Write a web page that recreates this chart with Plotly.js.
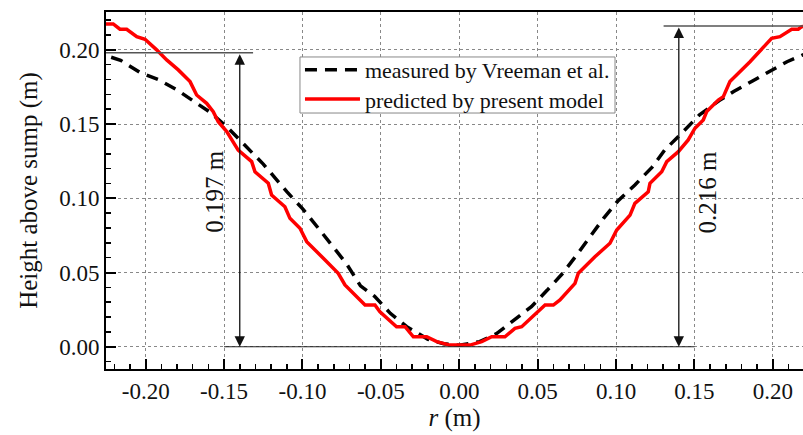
<!DOCTYPE html>
<html>
<head>
<meta charset="utf-8">
<script src="https://cdn.plot.ly/plotly-3.0.1.min.js"></script>
<style>html,body{margin:0;padding:0;background:#fff}#chart{width:803px;height:435px}</style>
</head>
<body>
<div id="chart"></div>
<script>
// measured by Vreeman et al.
var measR = [-0.222,-0.216,-0.204,-0.192,-0.180,-0.170,-0.159,-0.148,-0.138,-0.125,-0.110,-0.100,-0.090,-0.072,-0.063,-0.054,-0.044,-0.0335,-0.020,-0.010,0.000,0.013,0.024,0.034,0.046,0.056,0.066,0.075,0.083,0.092,0.101,0.112,0.123,0.131,0.141,0.153,0.166,0.175,0.187,0.197,0.209,0.220];
var measH = [0.195,0.193,0.185,0.180,0.173,0.166,0.158,0.148,0.137,0.123,0.1045,0.093,0.080,0.056,0.041,0.034,0.0225,0.0135,0.005,0.002,0.001,0.0034,0.009,0.017,0.027,0.038,0.0495,0.062,0.074,0.0865,0.098,0.109,0.121,0.1325,0.143,0.156,0.166,0.172,0.179,0.185,0.192,0.197];
// predicted by present model
var predR = [-0.2253,-0.2207,-0.2164,-0.2121,-0.2057,-0.2004,-0.193,-0.1866,-0.1792,-0.1717,-0.1675,-0.1611,-0.1569,-0.1537,-0.1483,-0.1441,-0.141,-0.1324,-0.1303,-0.1218,-0.1197,-0.1112,-0.108,-0.1016,-0.0973,-0.0867,-0.0772,-0.0729,-0.0665,-0.0601,-0.0538,-0.0506,-0.040,-0.0346,-0.0293,-0.0208,-0.0144,-0.006,0.0068,0.0143,0.0207,0.0291,0.0355,0.0398,0.0547,0.060,0.0642,0.0738,0.0759,0.0865,0.0961,0.1004,0.1089,0.112,0.1205,0.1216,0.1291,0.1323,0.1397,0.146,0.1503,0.1556,0.1578,0.1652,0.1684,0.1726,0.1854,0.1992,0.2045,0.212,0.2162,0.2184,0.222];
var predH = [0.2175,0.2175,0.2139,0.2139,0.2089,0.2071,0.200,0.1932,0.1865,0.1786,0.1696,0.164,0.1584,0.1516,0.1449,0.1381,0.1325,0.1247,0.1179,0.1101,0.1022,0.0943,0.0865,0.0798,0.0708,0.0596,0.0495,0.0416,0.0348,0.0281,0.0281,0.0236,0.0135,0.0135,0.0067,0.0067,0.0034,0.0011,0.0011,0.0034,0.0067,0.0067,0.0124,0.0135,0.0281,0.0281,0.0315,0.0427,0.0495,0.0606,0.0697,0.0786,0.0887,0.0966,0.1044,0.1101,0.1179,0.1247,0.1314,0.1393,0.1472,0.1528,0.1584,0.1662,0.1685,0.1786,0.192,0.2078,0.2089,0.2139,0.2139,0.2156,0.216];

var xTickVals = [-0.20,-0.15,-0.10,-0.05,0.00,0.05,0.10,0.15,0.20];
var xTickText = ["-0.20","-0.15","-0.10","-0.05","0.00","0.05","0.10","0.15","0.20"];
var yTickVals = [0.00,0.05,0.10,0.15,0.20];
var yTickText = ["0.00","0.05","0.10","0.15","0.20"];

// annotation values
var leftDepth = 0.197, rightDepth = 0.216;
var leftArrowR = -0.14, rightArrowR = 0.14;

var serif = "Liberation Serif, Times New Roman, serif";

var traces = [
  {x: measR, y: measH, type: 'scatter', mode: 'lines', name: 'measured by Vreeman et al.',
   line: {color: '#000', width: 3.5, dash: '12px,8px'}, legend: 'legend'},
  {x: predR, y: predH, type: 'scatter', mode: 'lines', name: 'predicted by present model',
   line: {color: '#ff0000', width: 3.5}, legend: 'legend2'}
];

var axisCommon = {
  showline: true, linecolor: '#000', linewidth: 2,
  ticks: 'inside', ticklen: 10, tickwidth: 2, tickcolor: '#000',
  showgrid: true, gridcolor: '#888', griddash: 'dot', gridwidth: 1,
  zeroline: false,
  tickfont: {family: serif, size: 23, color: '#111'},
  minor: {ticks: 'inside', ticklen: 5, tickwidth: 1.5, tickcolor: '#000', dtick: 0.01, showgrid: false}
};

var legendCommon = {x: 0.2783, xanchor: 'left', yanchor: 'middle',
  bgcolor: 'rgba(0,0,0,0)', borderwidth: 0,
  font: {family: serif, size: 22, color: '#111'}, itemwidth: 55};

var layout = {
  width: 803, height: 435,
  margin: {l: 106, r: 0, t: 12, b: 66},
  paper_bgcolor: '#fff', plot_bgcolor: '#fff',
  font: {family: serif, color: '#111'},
  xaxis: Object.assign({}, axisCommon, {
    range: [-0.2253, 0.2192], mirror: true,
    tickmode: 'array', tickvals: xTickVals, ticktext: xTickText,
    title: {text: '<i>r</i> (m)', font: {family: serif, size: 25, color: '#111'}, standoff: 4}
  }),
  yaxis: Object.assign({}, axisCommon, {
    range: [-0.015, 0.2255], mirror: false,
    tickmode: 'array', tickvals: yTickVals, ticktext: yTickText,
    title: {text: 'Height above sump (m)', font: {family: serif, size: 25, color: '#111'}, standoff: 14}
  }),
  showlegend: true,
  legend: Object.assign({}, legendCommon, {y: 0.8375}),
  legend2: Object.assign({}, legendCommon, {y: 0.756}),
  shapes: [
    {type: 'rect', xref: 'paper', yref: 'paper', x0: 0.2783, x1: 0.7303, y0: 0.717, y1: 0.874,
     fillcolor: '#fff', line: {color: '#888', width: 1}, layer: 'above'},
    {type: 'line', xref: 'paper', yref: 'y', x0: 0, x1: 0.211, y0: leftDepth + 0.001, y1: leftDepth + 0.001, line: {color: '#555', width: 1.5}},
    {type: 'line', xref: 'x', yref: 'y', x0: -0.15, x1: 0.15, y0: 0, y1: 0, line: {color: '#222', width: 1.2}},
    {type: 'line', xref: 'paper', yref: 'y', x0: 0.8, x1: 1, y0: rightDepth, y1: rightDepth, line: {color: '#555', width: 1.5}}
  ],
  annotations: [
    {x: leftArrowR, y: 0, ax: leftArrowR, ay: leftDepth + 0.001, xref: 'x', yref: 'y', axref: 'x', ayref: 'y',
     text: '', showarrow: true, arrowhead: 2, startarrowhead: 2, arrowside: 'end+start', arrowsize: 1.6, arrowwidth: 1.3, arrowcolor: '#111', standoff: 0, startstandoff: 0},
    {x: rightArrowR, y: 0, ax: rightArrowR, ay: rightDepth, xref: 'x', yref: 'y', axref: 'x', ayref: 'y',
     text: '', showarrow: true, arrowhead: 2, startarrowhead: 2, arrowside: 'end+start', arrowsize: 1.6, arrowwidth: 1.3, arrowcolor: '#111', standoff: 0, startstandoff: 0},
    {x: -0.1558, y: 0.105, xref: 'x', yref: 'y', text: leftDepth.toFixed(3) + ' m', showarrow: false, textangle: -90,
     font: {family: serif, size: 25, color: '#111'}},
    {x: 0.158, y: 0.104, xref: 'x', yref: 'y', text: rightDepth.toFixed(3) + ' m', showarrow: false, textangle: -90,
     font: {family: serif, size: 25, color: '#111'}}
  ]
};

Plotly.newPlot('chart', traces, layout, {displayModeBar: false, staticPlot: true});
</script>
</body>
</html>
